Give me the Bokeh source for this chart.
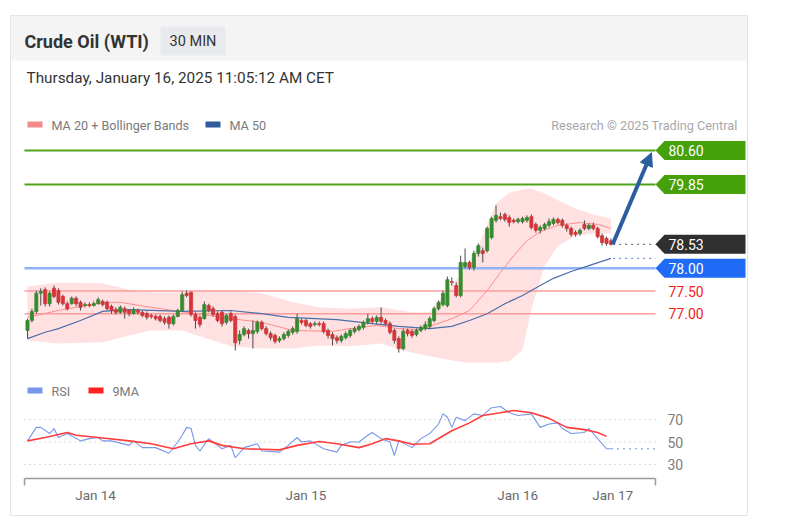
from bokeh.plotting import figure
from bokeh.models import Range1d, ColumnDataSource, Arrow, NormalHead
from bokeh.core.properties import value
from bokeh.embed import file_html
from bokeh.resources import INLINE

# ---------------- data ----------------
title_text = "Crude Oil (WTI)"
interval_text = "30 MIN"
date_text = "Thursday, January 16, 2025 11:05:12 AM CET"
credit_text = "Research \u00a9 2025 Trading Central"

opens = [76.63, 76.85, 77.05, 77.45, 77.53, 77.22, 77.56, 77.51, 77.38, 77.22,
         77.22, 77.34, 77.25, 77.18, 77.20, 77.18, 77.22, 77.27, 77.25, 77.16,
         77.09, 77.03, 77.11, 77.07, 77.00, 77.07, 77.03, 77.00, 76.96, 76.94,
         76.94, 76.89, 76.92, 76.78, 76.94, 77.07, 77.45, 77.47, 76.98, 76.92,
         76.89, 77.18, 77.11, 77.00, 77.03, 76.81, 77.00, 76.94, 76.41, 76.54,
         76.63, 76.56, 76.61, 76.81, 76.67, 76.56, 76.52, 76.41, 76.45, 76.52,
         76.59, 76.61, 76.85, 76.85, 76.78, 76.76, 76.78, 76.78, 76.63, 76.54,
         76.47, 76.41, 76.47, 76.52, 76.61, 76.65, 76.70, 76.81, 76.89, 76.83,
         76.92, 76.85, 76.78, 76.63, 76.45, 76.23, 76.63, 76.61, 76.54, 76.63,
         76.67, 76.72, 76.85, 77.11, 77.20, 77.18, 77.71, 77.62, 77.40, 78.04,
         78.13, 78.02, 78.33, 78.39, 78.39, 78.68, 79.06, 79.14, 79.19, 79.12,
         79.06, 79.03, 79.03, 79.06, 79.14, 78.97, 78.84, 78.88, 78.95, 78.99,
         79.08, 79.06, 78.95, 78.88, 78.79, 78.77, 78.97, 78.88, 78.95, 78.88,
         78.72, 78.66, 78.61]
closes = [76.85, 77.05, 77.45, 77.49, 77.22, 77.45, 77.38, 77.25, 77.22, 77.11,
          77.34, 77.22, 77.14, 77.20, 77.18, 77.22, 77.31, 77.20, 77.11, 77.07,
          77.03, 77.14, 77.03, 77.00, 77.09, 77.03, 76.96, 76.92, 76.94, 76.89,
          76.85, 76.81, 76.78, 76.94, 77.07, 77.42, 77.40, 76.98, 76.85, 76.76,
          77.20, 77.07, 76.98, 76.85, 76.78, 76.96, 76.85, 76.36, 76.54, 76.67,
          76.56, 76.63, 76.81, 76.67, 76.56, 76.47, 76.39, 76.45, 76.54, 76.61,
          76.67, 76.89, 76.81, 76.74, 76.72, 76.78, 76.76, 76.61, 76.52, 76.45,
          76.41, 76.50, 76.56, 76.63, 76.67, 76.72, 76.81, 76.89, 76.83, 76.92,
          76.83, 76.78, 76.59, 76.41, 76.23, 76.61, 76.56, 76.52, 76.63, 76.70,
          76.76, 76.89, 77.11, 77.25, 77.45, 77.75, 77.69, 77.40, 78.13, 78.13,
          78.02, 78.33, 78.50, 78.33, 78.88, 79.10, 79.17, 79.10, 79.08, 79.01,
          79.03, 79.08, 79.10, 79.12, 78.90, 78.84, 78.90, 78.97, 79.03, 79.08,
          79.01, 78.95, 78.88, 78.75, 78.75, 78.84, 78.88, 78.95, 78.88, 78.70,
          78.57, 78.55, 78.53]
highs = [76.89, 77.11, 77.51, 77.56, 77.58, 77.49, 77.62, 77.56, 77.42, 77.27,
         77.38, 77.38, 77.29, 77.25, 77.25, 77.27, 77.36, 77.31, 77.29, 77.20,
         77.14, 77.18, 77.16, 77.09, 77.14, 77.11, 77.07, 77.05, 77.00, 76.98,
         76.98, 76.94, 76.96, 76.98, 77.11, 77.49, 77.51, 77.49, 77.03, 76.96,
         77.27, 77.22, 77.16, 77.05, 77.07, 77.00, 77.05, 76.98, 76.63, 76.72,
         76.67, 76.85, 76.85, 76.85, 76.72, 76.61, 76.56, 76.50, 76.59, 76.65,
         76.72, 77.00, 76.89, 76.89, 76.81, 76.83, 76.83, 76.83, 76.67, 76.59,
         76.52, 76.54, 76.61, 76.67, 76.72, 76.76, 76.85, 77.00, 76.94, 76.96,
         77.14, 76.89, 76.83, 76.67, 76.50, 76.67, 76.67, 76.65, 76.67, 76.74,
         76.83, 76.94, 77.16, 77.29, 77.51, 77.82, 77.80, 77.69, 78.28, 78.44,
         78.17, 78.39, 78.55, 78.46, 78.92, 79.14, 79.39, 79.23, 79.23, 79.17,
         79.10, 79.12, 79.14, 79.17, 79.19, 79.01, 78.95, 79.01, 79.10, 79.12,
         79.12, 79.10, 78.99, 78.92, 78.84, 78.88, 79.06, 78.99, 79.01, 78.92,
         78.77, 78.70, 78.66]
lows = [76.45, 76.81, 77.00, 77.18, 77.16, 77.16, 77.34, 77.20, 77.18, 77.07,
        77.20, 77.16, 77.07, 77.14, 77.14, 77.16, 77.20, 77.16, 77.07, 77.00,
        76.98, 77.00, 76.89, 76.94, 76.98, 76.98, 76.92, 76.87, 76.89, 76.85,
        76.81, 76.76, 76.67, 76.74, 76.92, 77.05, 77.36, 76.94, 76.67, 76.70,
        76.87, 77.03, 76.94, 76.81, 76.72, 76.76, 76.81, 76.19, 76.32, 76.50,
        76.45, 76.23, 76.56, 76.63, 76.52, 76.41, 76.34, 76.36, 76.41, 76.47,
        76.54, 76.56, 76.76, 76.70, 76.67, 76.72, 76.72, 76.56, 76.45, 76.30,
        76.34, 76.36, 76.43, 76.47, 76.56, 76.61, 76.65, 76.76, 76.78, 76.78,
        76.78, 76.74, 76.54, 76.34, 76.14, 76.19, 76.50, 76.47, 76.50, 76.59,
        76.63, 76.67, 76.81, 77.07, 77.16, 77.14, 77.62, 77.36, 77.36, 78.00,
        77.97, 77.95, 78.26, 78.13, 78.35, 78.64, 79.01, 79.06, 79.03, 78.92,
        78.99, 78.99, 78.99, 79.01, 78.86, 78.79, 78.77, 78.84, 78.90, 78.95,
        78.97, 78.90, 78.81, 78.70, 78.70, 78.72, 78.84, 78.84, 78.84, 78.66,
        78.50, 78.50, 78.50]

ma20_bars = [0, 7, 17, 21, 28, 38, 46, 53, 60, 69, 73, 79, 84, 89, 96, 100, 104,
             107, 110, 113, 116, 120, 125, 129, 132]
ma20_vals = [76.92, 77.07, 77.25, 77.25, 77.14, 77.00, 76.89, 76.81, 76.63, 76.61,
             76.67, 76.74, 76.67, 76.65, 76.89, 77.07, 77.51, 77.91, 78.28, 78.61,
             78.81, 78.95, 79.01, 78.97, 78.88]

band_bars = [0, 7, 17, 23, 28, 35, 39, 46, 53, 60, 66, 73, 80, 87, 91, 96, 100,
             103, 106, 109, 112, 114, 117, 120, 124, 128, 132]
band_upper = [77.60, 77.69, 77.67, 77.53, 77.47, 77.47, 77.51, 77.51, 77.45, 77.25,
              77.14, 77.11, 77.14, 77.03, 77.03, 77.62, 78.13, 78.72, 79.43, 79.67,
              79.74, 79.76, 79.65, 79.50, 79.32, 79.19, 79.10]
band_lower = [76.41, 76.34, 76.37, 76.52, 76.63, 76.63, 76.50, 76.28, 76.23, 76.23,
              76.30, 76.28, 76.34, 76.14, 76.06, 75.97, 75.92, 75.92, 75.92, 75.95,
              76.20, 77.10, 78.05, 78.50, 78.72, 78.77, 78.77]

ma50_bars = [0, 4, 7, 12, 17, 23, 35, 46, 53, 59, 70, 78, 84, 91, 96, 100, 104,
             108, 112, 116, 119, 123, 127, 132]
ma50_vals = [76.45, 76.59, 76.67, 76.85, 77.05, 77.09, 77.05, 77.07, 77.00, 76.92,
             76.87, 76.78, 76.72, 76.67, 76.72, 76.85, 77.00, 77.22, 77.40, 77.62,
             77.78, 77.93, 78.06, 78.22]

resistances = [80.60, 79.85]
last_price = 78.53
pivot = 78.00
supports = [77.50, 77.00]
target = 80.60

rsi_bars = [0, 2, 3, 5, 6, 7, 9, 12, 14, 16, 17, 19, 23, 24, 26, 29, 32, 34, 35, 36,
            37, 38, 39, 41, 44, 46, 47, 49, 52, 53, 57, 59, 61, 62, 64, 67, 70, 71, 73, 75,
            77, 78, 80, 82, 83, 84, 87, 89, 91, 93, 94, 95, 96, 97, 99, 101, 103, 105, 107, 109,
            111, 114, 116, 118, 120, 121, 123, 126, 127, 129, 131, 132]
rsi_vals = [51, 63, 63, 57.5, 62, 54, 57.5, 51, 53, 54, 51, 51, 47, 51, 45, 45, 40, 50, 56, 63,
            62, 47, 42, 53, 44, 47, 36, 45, 48.5, 42, 41, 47, 54, 50, 51, 44, 41, 47, 50, 50,
            56, 58.5, 53, 50, 38, 51, 45, 53, 57.5, 66, 75, 72, 63, 72, 69, 75, 73.5, 80.5, 81.5, 76,
            73.5, 75, 63, 66, 67, 62, 57.5, 58.5, 62, 53, 44, 44]
rsi_ma_bars = [0, 4, 9, 11, 16, 23, 28, 33, 37, 41, 44, 49, 57, 61, 66, 70, 75, 78, 81, 84,
               87, 91, 96, 100, 103, 107, 110, 114, 118, 122, 126, 129, 131]
rsi_ma_vals = [51, 54, 58.5, 56, 54, 51, 48.5, 44, 48.5, 51, 47, 44, 43, 47, 50.5, 48.5, 45, 48.5, 53, 51,
               48, 48.5, 60, 67, 73.5, 76, 78, 76, 71, 63, 61, 58.5, 55]
rsi_levels = [70, 50, 30]

date_tick_bars = [15.4, 63.0, 110.9, 132.4]
date_tick_labels = ["Jan 14", "Jan 15", "Jan 16", "Jan 17"]

# ---------------- layout constants (page pixels) ----------------
W, H = 780, 520
ORG = 0                       # page offset of the canvas
BAR_PX, BAR0 = 4.42, 27       # bar spacing, page x of bar 0
P_REF, P_REF_Y, P_PX = 80.60, 150, 45.33   # price scale
R_REF, R_REF_Y, R_PX = 50, 441.5, 1.125    # rsi scale
X_L, X_R = 24, 655            # plot area left / right (page px)
FONT = "Roboto"

p = figure(width=W, height=H, output_backend="svg", toolbar_location=None,
           x_range=Range1d((ORG - BAR0) / BAR_PX, (ORG + W - BAR0) / BAR_PX),
           y_range=Range1d(P_REF - (ORG + H - P_REF_Y) / P_PX, P_REF + (P_REF_Y - ORG) / P_PX),
           x_axis_location=None, y_axis_location=None, min_border=0,
           outline_line_color=None, background_fill_color="white", border_fill_color="white")
p.extra_x_ranges = {"px": Range1d(ORG, ORG + W)}
p.extra_y_ranges = {"px": Range1d(ORG + H, ORG),
                    "rsi": Range1d(R_REF - (ORG + H - R_REF_Y) / R_PX, R_REF + (R_REF_Y - ORG) / R_PX)}
for g in p.grid:
    g.visible = False

PX = dict(x_range_name="px", y_range_name="px")

# card + header
p.quad(left=[10], right=[747], top=[15], bottom=[515], fill_color="white",
       line_color="#e4e4e4", line_width=1, **PX)
p.quad(left=[10.5], right=[746.5], top=[15.5], bottom=[60], fill_color="#f4f4f4",
       line_color=None, **PX)
p.quad(left=[160], right=[225], top=[26], bottom=[55], fill_color="#e8eaed", line_color=None, **PX)

def txt(x, y, s, size, color, bold=False, align="left", **kw):
    p.text(x=[x], y=[y], text=[s], text_font=value(FONT), text_font_size=f"{size}px",
           text_color=color, text_align=align, text_baseline="middle",
           text_font_style="bold" if bold else "normal", **kw)

txt(24, 41, title_text, 18, "#333333", bold=True, **PX)
txt(192.5, 41, interval_text, 14.5, "#333333", align="center", **PX)
txt(26, 77, date_text, 15.3, "#333333", **PX)

# legend
p.quad(left=[27], right=[42], top=[121], bottom=[127], fill_color="#f48a8a", line_color=None, **PX)
txt(51, 124.5, "MA 20 + Bollinger Bands", 12.6, "#7a7a7a", **PX)
p.quad(left=[205], right=[220], top=[121], bottom=[127], fill_color="#2f5a9c", line_color=None, **PX)
txt(229, 124.5, "MA 50", 12.6, "#7a7a7a", **PX)
txt(737, 124.5, credit_text, 12.7, "#a8a8a8", align="right", **PX)

# Bollinger band
p.varea(x=band_bars, y1=band_lower, y2=band_upper, fill_color="#ffdcdc", fill_alpha=0.85)

# level lines
for lv in resistances:
    p.line(x=[X_L, X_R], y=[lv, lv], line_color="#4ea317", line_width=2, x_range_name="px")
p.line(x=[X_L, X_R], y=[pivot, pivot], line_color="#8fb2f8", line_width=2.5, x_range_name="px")
for lv in supports:
    p.line(x=[X_L, X_R], y=[lv, lv], line_color="#ff9c9c", line_width=1.5, x_range_name="px")

p.line(x=ma20_bars, y=ma20_vals, line_color="#ff8c8c", line_width=1)
p.line(x=ma50_bars, y=ma50_vals, line_color="#4b6fa8", line_width=1.2)
p.line(x=[len(closes) - 0.5, (X_R - BAR0) / BAR_PX], y=[ma50_vals[-1], ma50_vals[-1]],
       line_color="#6f93d6", line_width=1.2, line_dash="2 4")
p.line(x=[len(closes) - 0.5, (X_R - BAR0) / BAR_PX], y=[last_price, last_price],
       line_color="#777777", line_width=1.2, line_dash="2 4")

# candles
idx = list(range(len(closes)))
up_col, dn_col = "#378a30", "#d3363a"
cols = [up_col if c >= o else dn_col for o, c in zip(opens, closes)]
src = ColumnDataSource(dict(x=idx, o=opens, c=closes, h=highs, l=lows,
                            top=[max(o, c) for o, c in zip(opens, closes)],
                            bot=[min(o, c) for o, c in zip(opens, closes)], col=cols))
p.segment(x0="x", y0="l", x1="x", y1="h", source=src, line_color="#4a4a4a", line_width=1)
p.vbar(x="x", top="top", bottom="bot", width=0.7, source=src, fill_color="col",
       line_color="col", line_width=0.8)

# arrow to target
p.add_layout(Arrow(end=NormalHead(size=13, fill_color="#2b5d9f", line_color="#2b5d9f"),
                   x_start=len(closes) - 0.6, y_start=last_price,
                   x_end=(651 - BAR0) / BAR_PX, y_end=target - 0.05,
                   line_color="#2b5d9f", line_width=4))

# price tags
HH = 9.5 / P_PX
def tag(price, fill, label):
    p.patch(x=[655, 664, 745, 745, 664], y=[price, price + HH, price + HH, price - HH, price - HH],
            fill_color=fill, line_color=None, x_range_name="px")
    p.text(x=[668], y=[price], text=[label], text_font=value(FONT), text_font_size="14px",
           text_color="white", text_baseline="middle", x_range_name="px")

for lv in resistances:
    tag(lv, "#45a00a", f"{lv:.2f}")
tag(last_price, "#2f2f2f", f"{last_price:.2f}")
tag(pivot, "#1f6bf5", f"{pivot:.2f}")
for lv in supports:
    p.text(x=[668], y=[lv], text=[f"{lv:.2f}"], text_font=value(FONT), text_font_size="14px",
           text_color="#f21d1d", text_baseline="middle", x_range_name="px")

# ---------------- RSI panel ----------------
R = dict(y_range_name="rsi")
for lv in rsi_levels:
    p.line(x=[X_L, X_R], y=[lv, lv], line_color="#bdbdbd", line_width=1.2, line_dash="1 4",
           x_range_name="px", y_range_name="rsi")
    p.text(x=[667], y=[lv], text=[str(lv)], text_font=value(FONT), text_font_size="14px",
           text_color="#7d7d7d", text_baseline="middle", x_range_name="px", y_range_name="rsi")

p.line(x=rsi_bars, y=rsi_vals, line_color="#7896ea", line_width=1.1, **R)
p.line(x=rsi_ma_bars, y=rsi_ma_vals, line_color="#ff3c3c", line_width=1.6, **R)
p.line(x=[rsi_bars[-1], (X_R - BAR0) / BAR_PX], y=[rsi_vals[-1], rsi_vals[-1]],
       line_color="#7896ea", line_width=1.2, line_dash="2 4", **R)

p.quad(left=[27], right=[42], top=[387], bottom=[393], fill_color="#7896ea", line_color=None, **PX)
txt(51, 390.5, "RSI", 12.6, "#7a7a7a", **PX)
p.quad(left=[88], right=[103], top=[387], bottom=[393], fill_color="#ff2020", line_color=None, **PX)
txt(112, 390.5, "9MA", 12.6, "#7a7a7a", **PX)

# time axis
p.line(x=[X_L, X_R], y=[478, 478], line_color="#9a9a9a", line_width=1.5, **PX)
p.segment(x0=[X_L, X_R], y0=[478, 478], x1=[X_L, X_R], y1=[485, 485],
          line_color="#9a9a9a", line_width=1.5, **PX)
p.text(x=date_tick_bars, y=[494] * len(date_tick_bars), text=date_tick_labels,
       text_font=value(FONT), text_font_size="13.5px", text_color="#6a6a6a",
       text_align="center", text_baseline="middle", y_range_name="px")

open("out.html", "w").write(file_html(p, INLINE))
